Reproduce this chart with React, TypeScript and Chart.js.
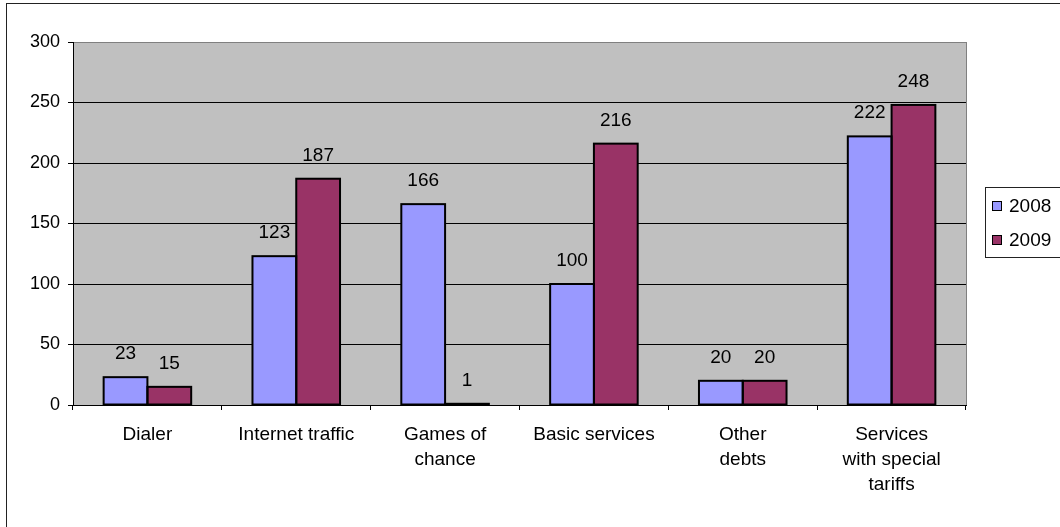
import React, { useEffect, useRef } from "react";
import { Chart, registerables } from "chart.js";

Chart.register(...registerables);

const categories: string[][] = [
  ["Dialer"],
  ["Internet traffic"],
  ["Games of", "chance"],
  ["Basic services"],
  ["Other", "debts"],
  ["Services", "with special", "tariffs"],
];
const seriesNames = ["2008", "2009"];
const values2008 = [23, 123, 166, 100, 20, 222];
const values2009 = [15, 187, 1, 216, 20, 248];
const seriesColors = ["#9999FF", "#993366"];
const yTicks = { min: 0, max: 300, step: 50 };

const FONT = '"Liberation Sans", Arial, sans-serif';

const decorPlugin = {
  id: "decor",
  beforeDraw(chart: any) {
    const { ctx, chartArea } = chart;
    ctx.save();
    ctx.fillStyle = "#ffffff";
    ctx.fillRect(0, 0, chart.width, chart.height);
    ctx.fillStyle = "#C0C0C0";
    ctx.fillRect(chartArea.left, chartArea.top, chartArea.right - chartArea.left, chartArea.bottom - chartArea.top);
    ctx.strokeStyle = "#222";
    ctx.lineWidth = 1;
    ctx.strokeRect(6.5, 3.5, 3000, 3000);
    ctx.restore();
  },
  afterDatasetsDraw(chart: any) {
    const { ctx } = chart;
    ctx.save();
    ctx.strokeStyle = "#000";
    ctx.lineWidth = 2;
    chart.data.datasets.forEach((_ds: any, i: number) => {
      const meta = chart.getDatasetMeta(i);
      meta.data.forEach((el: any) => {
        const half = el.width / 2;
        const top = Math.min(el.y, el.base);
        const h = Math.abs(el.base - el.y);
        ctx.strokeRect(el.x - half, top, el.width, h);
      });
    });
    ctx.restore();
  },
  afterDraw(chart: any) {
    const { ctx, chartArea } = chart;
    ctx.save();
    // right border of plot area
    ctx.strokeStyle = "#808080";
    ctx.lineWidth = 1;
    ctx.beginPath();
    ctx.moveTo(Math.round(chartArea.right) + 0.5, chartArea.top);
    ctx.lineTo(Math.round(chartArea.right) + 0.5, chartArea.bottom);
    ctx.stroke();

    // data labels
    ctx.fillStyle = "#000";
    ctx.font = `19px ${FONT}`;
    ctx.textAlign = "center";
    ctx.textBaseline = "alphabetic";
    chart.data.datasets.forEach((ds: any, i: number) => {
      const meta = chart.getDatasetMeta(i);
      meta.data.forEach((el: any, j: number) => {
        ctx.fillText(String(ds.data[j]), el.x, el.y - 18);
      });
    });

    // legend
    const lx = 985.5, ly = 187.5;
    ctx.strokeStyle = "#222";
    ctx.strokeRect(lx, ly, 300, 70);
    ctx.textAlign = "left";
    ctx.textBaseline = "middle";
    chart.data.datasets.forEach((ds: any, i: number) => {
      const cy = 206 + i * 34;
      ctx.fillStyle = ds.backgroundColor;
      ctx.fillRect(992, cy - 5, 10, 10);
      ctx.strokeStyle = "#000";
      ctx.strokeRect(992.5, cy - 4.5, 9, 9);
      ctx.fillStyle = "#000";
      ctx.fillText(ds.label, 1009, cy + 1);
    });
    ctx.restore();
  },
};

export default function App() {
  const ref = useRef<HTMLCanvasElement | null>(null);
  useEffect(() => {
    if (!ref.current) return;
    const chart = new Chart(ref.current, {
      type: "bar",
      data: {
        labels: categories,
        datasets: [
          {
            label: seriesNames[0],
            data: values2008,
            backgroundColor: seriesColors[0],
            borderWidth: 0,
          },
          {
            label: seriesNames[1],
            data: values2009,
            backgroundColor: seriesColors[1],
            borderWidth: 0,
          },
        ],
      },
      options: {
        responsive: false,
        animation: false,
        devicePixelRatio: 1,
        layout: { padding: { top: 42, right: 94, left: 0, bottom: 0 } },
        plugins: { legend: { display: false }, tooltip: { enabled: false } },
        datasets: { bar: { categoryPercentage: 1 / 1.7, barPercentage: 1 } },
        scales: {
          x: {
            grid: {
              display: true,
              drawOnChartArea: false,
              drawTicks: true,
              tickLength: 5,
              color: "#000",
              offset: true,
            },
            border: { display: true, color: "#000", width: 1 },
            ticks: {
              autoSkip: false,
              maxRotation: 0,
              minRotation: 0,
              padding: 12,
              color: "#000",
              font: { family: FONT, size: 19, lineHeight: 25 / 19 },
            },
            afterFit: (s: any) => {
              s.height = 122;
            },
          },
          y: {
            min: yTicks.min,
            max: yTicks.max,
            grid: {
              color: (c: any) => (c.tick && c.tick.value === yTicks.max ? "#808080" : "#000"),
              tickColor: "#000",
              tickLength: 5,
            },
            border: { display: true, color: "#000", width: 1 },
            ticks: {
              stepSize: yTicks.step,
              padding: 8,
              color: "#000",
              font: { family: FONT, size: 18 },
            },
            afterFit: (s: any) => {
              s.width = 73;
            },
          },
        },
      },
      plugins: [decorPlugin],
    });
    return () => chart.destroy();
  }, []);
  return (
    <div style={{ position: "fixed", left: 0, top: 0, width: 1060, height: 527, background: "#fff" }}>
      <canvas ref={ref} width={1060} height={527} style={{ display: "block" }} />
    </div>
  );
}
